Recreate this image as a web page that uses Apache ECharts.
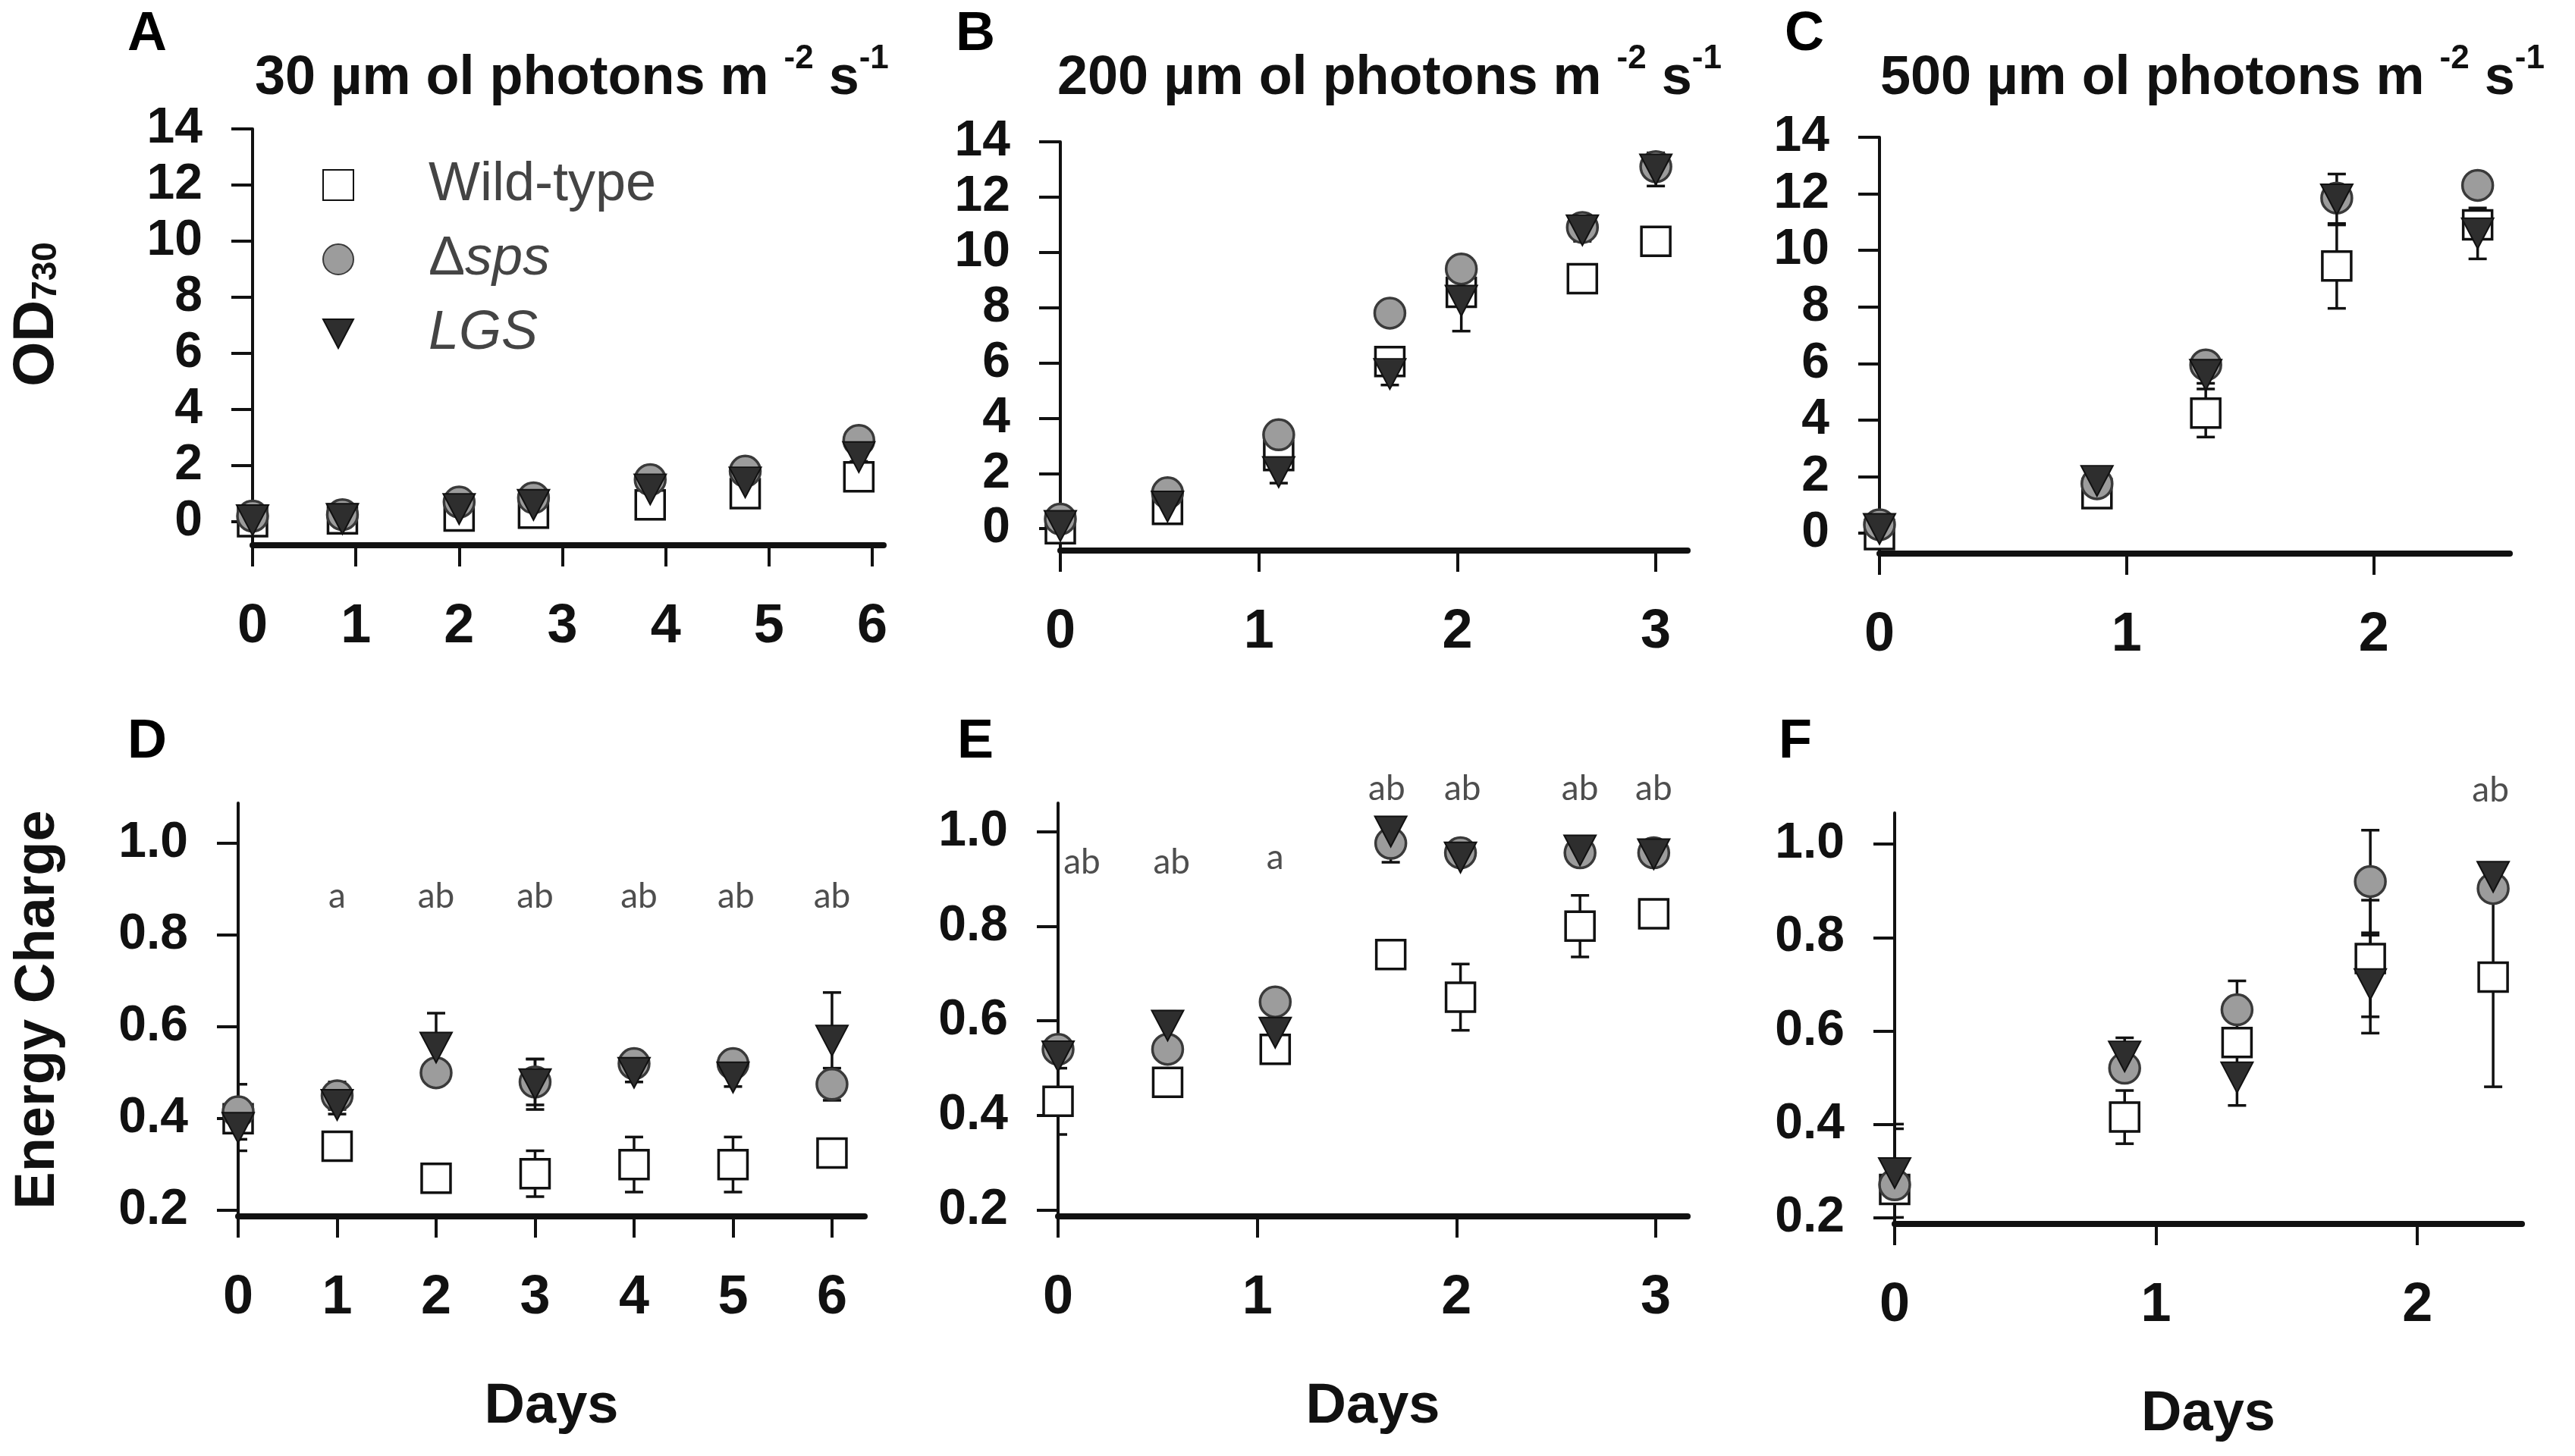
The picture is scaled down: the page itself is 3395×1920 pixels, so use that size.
<!DOCTYPE html>
<html>
<head>
<meta charset="utf-8">
<script src="https://cdn.jsdelivr.net/npm/echarts@6/dist/echarts.min.js"></script>
<style>
html,body{margin:0;padding:0;background:#fff}
#chart{width:3395px;height:1920px}
</style>
</head>
<body>
<div id="chart"></div>
<script>
// ---- data ----
// panel A: OD730, 30 umol photons
const daysA = [0, 0.87, 2.0, 2.72, 3.85, 4.77, 5.87]
const wtA = [0.0, 0.1, 0.2, 0.3, 0.6, 1.0, 1.6]
const wtErrA = [0.1, 0.1, 0.2, 0.2, 0.3, 0.3, 0.3]
const spsA = [0.2, 0.25, 0.7, 0.85, 1.5, 1.8, 2.9]
const spsErrA = [0.1, 0.1, 0.1, 0.1, 0.15, 0.15, 0.2]
const lgsA = [0.05, 0.1, 0.45, 0.6, 1.15, 1.4, 2.3]
const lgsErrA = [0.1, 0.1, 0.2, 0.2, 0.2, 0.2, 0.15]

// panel B: OD730, 200 umol photons
const daysB = [0, 0.54, 1.1, 1.66, 2.02, 2.63, 3.0]
const wtB = [0.0, 0.7, 2.65, 6.05, 8.55, 9.05, 10.4]
const wtErrB = [0.1, 0.2, 0.3, 0.3, 0.3, 0.2, 0.2]
const spsB = [0.35, 1.3, 3.4, 7.8, 9.4, 10.9, 13.1]
const spsErrB = [0.1, 0.2, 0.2, 0.2, 0.3, 0.2, 0.3]
const lgsB = [0.1, 0.8, 2.05, 5.6, 8.25, 10.8, 13.0]
const lgsErrB = [0.1, 0.3, 0.4, 0.4, 1.1, 0.4, 0.6]

// panel C: OD730, 500 umol photons
const daysC = [0, 0.88, 1.32, 1.85, 2.42]
const wtC = [-0.05, 1.4, 4.25, 9.45, 10.9]
const wtErrC = [0.1, 0.2, 0.85, 1.5, 0.5]
const spsC = [0.3, 1.75, 5.95, 11.85, 12.3]
const spsErrC = [0.1, 0.2, 0.3, 0.3, 0.2]
const lgsC = [0.15, 1.85, 5.6, 11.8, 10.6]
const lgsErrC = [0.1, 0.2, 0.3, 0.9, 0.9]

// panel D: energy charge, 30 umol photons
const daysD = [0, 1, 2, 3, 4, 5, 6]
const wtD = [0.40, 0.34, 0.27, 0.28, 0.30, 0.30, 0.325]
const wtErrD = [0.02, 0.02, 0.02, 0.05, 0.06, 0.06, 0.025]
const spsD = [0.415, 0.45, 0.50, 0.48, 0.52, 0.52, 0.475]
const spsErrD = [0.06, 0.03, 0.02, 0.05, 0.02, 0.02, 0.035]
const lgsD = [0.38, 0.43, 0.555, 0.475, 0.50, 0.49, 0.57]
const lgsErrD = [0.05, 0.02, 0.075, 0.055, 0.02, 0.02, 0.105]
const noteXD = [1, 2, 3, 4.05, 5.03, 6]
const noteYD = [0.885, 0.885, 0.885, 0.885, 0.885, 0.885]
const noteD = ['a', 'ab', 'ab', 'ab', 'ab', 'ab']

// panel E: energy charge, 200 umol photons
const daysE = [0, 0.55, 1.09, 1.67, 2.02, 2.62, 2.99]
const wtE = [0.43, 0.47, 0.54, 0.74, 0.65, 0.80, 0.826]
const wtErrE = [0.07, 0.01, 0.01, 0.01, 0.07, 0.065, 0.01]
const spsE = [0.54, 0.54, 0.64, 0.975, 0.955, 0.955, 0.955]
const spsErrE = [0.01, 0.01, 0.01, 0.04, 0.01, 0.01, 0.01]
const lgsE = [0.525, 0.59, 0.575, 1.0, 0.945, 0.96, 0.952]
const lgsErrE = [0.01, 0.03, 0.01, 0.03, 0.01, 0.01, 0.01]
const noteXE = [0.12, 0.57, 1.09, 1.65, 2.03, 2.62, 2.99]
const noteYE = [0.935, 0.935, 0.945, 1.09, 1.09, 1.09, 1.09]
const noteE = ['ab', 'ab', 'a', 'ab', 'ab', 'ab', 'ab']

// panel F: energy charge, 500 umol photons
const daysF = [0, 0.88, 1.31, 1.82, 2.29]
const wtF = [0.26, 0.415, 0.575, 0.755, 0.715]
const wtErrF = [0.01, 0.057, 0.01, 0.125, 0.235]
const spsF = [0.27, 0.52, 0.645, 0.92, 0.905]
const spsErrF = [0.13, 0.01, 0.062, 0.11, 0.01]
const lgsF = [0.295, 0.545, 0.50, 0.70, 0.93]
const lgsErrF = [0.095, 0.04, 0.06, 0.105, 0.01]
const noteXF = [2.28]
const noteYF = [1.115]
const noteF = ['ab']

const odTicks = [0, 2, 4, 6, 8, 10, 12, 14]
const ecTicks = [0.2, 0.4, 0.6, 0.8, 1.0]
const titlesTop = ['30', '200', '500']
const letters = ['A', 'B', 'C', 'D', 'E', 'F']

const FONT = '"Liberation Sans", Arial, sans-serif'

var panels = [
  {grid:{left:333, top:170, width:832, height:549}, xMax:6.11, yMin:-0.84, yMax:14, xTicks:[0,1,2,3,4,5,6], yTicks:odTicks,
   days:daysA, wt:wtA, wtErr:wtErrA, sps:spsA, spsErr:spsErrA, lgs:lgsA, lgsErr:lgsErrA},
  {grid:{left:1398, top:187, width:827, height:539}, xMax:3.16, yMin:-0.79, yMax:14, xTicks:[0,1,2,3], yTicks:odTicks,
   days:daysB, wt:wtB, wtErr:wtErrB, sps:spsB, spsErr:spsErrB, lgs:lgsB, lgsErr:lgsErrB},
  {grid:{left:2478, top:181, width:831, height:549}, xMax:2.55, yMin:-0.72, yMax:14, xTicks:[0,1,2], yTicks:odTicks,
   days:daysC, wt:wtC, wtErr:wtErrC, sps:spsC, spsErr:spsErrC, lgs:lgsC, lgsErr:lgsErrC},
  {grid:{left:314, top:1059, width:826, height:545}, xMax:6.33, yMin:0.187, yMax:1.088, xTicks:[0,1,2,3,4,5,6], yTicks:ecTicks,
   days:daysD, wt:wtD, wtErr:wtErrD, sps:spsD, spsErr:spsErrD, lgs:lgsD, lgsErr:lgsErrD, nx:noteXD, ny:noteYD, nt:noteD},
  {grid:{left:1395, top:1059, width:830, height:545}, xMax:3.16, yMin:0.187, yMax:1.06, xTicks:[0,1,2,3], yTicks:ecTicks,
   days:daysE, wt:wtE, wtErr:wtErrE, sps:spsE, spsErr:spsErrE, lgs:lgsE, lgsErr:lgsErrE, nx:noteXE, ny:noteYE, nt:noteE},
  {grid:{left:2498, top:1072, width:827, height:542}, xMax:2.40, yMin:0.186, yMax:1.067, xTicks:[0,1,2], yTicks:ecTicks,
   days:daysF, wt:wtF, wtErr:wtErrF, sps:spsF, spsErr:spsErrF, lgs:lgsF, lgsErr:lgsErrF, nx:noteXF, ny:noteYF, nt:noteF}
]

// inverted triangle used for LGS (legend icon too)
const downTri = 'path://M0,0 L20,0 L10,19 Z'

var looks = {
  wt: {name:'Wild-type', symbol:'rect', size:38, z:3,
       style:{color:'#fff', borderColor:'#111', borderWidth:3.5, opacity:1}},
  sps: {name:'Δsps', symbol:'circle', size:40, z:4,
       style:{color:'#9c9c9c', borderColor:'#3a3a3a', borderWidth:3.5, opacity:1}},
  lgs: {name:'LGS', symbol:downTri, size:[42,40], z:5,
       style:{color:'#2e2e2e', borderColor:'#111', borderWidth:2, opacity:1}}
}

function errBar(params, api) {
  var x = api.value(0)
  var lo = api.coord([x, api.value(1)])
  var hi = api.coord([x, api.value(2)])
  var w = 12
  var st = {stroke:'#111', lineWidth:3.5}
  return {type:'group', children:[
    {type:'line', shape:{x1:lo[0], y1:lo[1], x2:hi[0], y2:hi[1]}, style:st},
    {type:'line', shape:{x1:lo[0]-w, y1:lo[1], x2:lo[0]+w, y2:lo[1]}, style:st},
    {type:'line', shape:{x1:hi[0]-w, y1:hi[1], x2:hi[0]+w, y2:hi[1]}, style:st}
  ]}
}

var series = []
var grids = [], xAxes = [], yAxes = []
panels.forEach(function(p, i) {
  var bottomRow = i >= 3
  grids.push(p.grid)
  xAxes.push({
    type:'value', gridIndex:i, min:0, max:p.xMax,
    axisLine:{show:true, onZero:false, lineStyle:{color:'#111', width:8}},
    axisTick:{show:true, length:28, customValues:p.xTicks, lineStyle:{color:'#111', width:4}},
    axisLabel:{customValues:p.xTicks, margin:72, fontSize:72, fontWeight:'bold', fontFamily:FONT, color:'#111'},
    splitLine:{show:false},
    name: bottomRow ? 'Days' : '', nameLocation:'middle', nameGap:215,
    nameTextStyle:{fontSize:74, fontWeight:'bold', fontFamily:FONT, color:'#111'}
  })
  var yName = ''
  if (i === 0) yName = '{b|OD}{s|730}'
  if (i === 3) yName = 'Energy Charge'
  yAxes.push({
    type:'value', gridIndex:i, min:p.yMin, max:p.yMax,
    axisLine:{show:true, onZero:false, lineStyle:{color:'#111', width:4}},
    axisTick:{show:true, length:28, customValues:p.yTicks, lineStyle:{color:'#111', width:4}},
    axisLabel:{customValues:p.yTicks, margin:66, fontSize:66, fontWeight:'bold', fontFamily:FONT, color:'#111',
      formatter: function(v){ return bottomRow ? v.toFixed(1) : String(v) }},
    splitLine:{show:false},
    name:yName, nameLocation:'middle', nameRotate:90, nameGap: i === 0 ? 222 : 226,
    nameTextStyle:{fontSize:74, fontWeight:'bold', fontFamily:FONT, color:'#111',
      padding: i === 0 ? [0,0,0,60] : [0,0,0,0],
      rich:{
        b:{fontSize:76, fontWeight:'bold', fontFamily:FONT, color:'#111', padding:[0,0,24,0]},
        s:{fontSize:46, fontWeight:'bold', fontFamily:FONT, color:'#111'}
      }}
  })
  ;['wt', 'sps', 'lgs'].forEach(function(k) {
    var vals = p[k], errs = p[k + 'Err'], lk = looks[k]
    series.push({
      type:'custom', xAxisIndex:i, yAxisIndex:i, silent:true, clip:true, z:2,
      renderItem:errBar,
      data: p.days.map(function(d, j){ return [d, vals[j] - errs[j], vals[j] + errs[j]] })
    })
    series.push({
      type:'scatter', name:lk.name, xAxisIndex:i, yAxisIndex:i, z:lk.z,
      symbol:lk.symbol, symbolSize:lk.size,
      itemStyle:lk.style,
      data: p.days.map(function(d, j){ return [d, vals[j]] })
    })
  })
  if (p.nt) {
    series.push({
      type:'scatter', xAxisIndex:i, yAxisIndex:i, clip:false, silent:true, z:6,
      symbolSize:1, itemStyle:{color:'rgba(0,0,0,0)'},
      label:{show:true, position:'inside', fontSize:46, fontFamily:'Lato, "Open Sans", sans-serif', color:'#222',
        formatter:function(q){ return q.value[2] }},
      data: p.nt.map(function(t, j){ return [p.nx[j], p.ny[j], t] })
    })
  }
})

var titleRich = {
  t:{fontSize:72, fontWeight:'bold', fontFamily:FONT, color:'#111', lineHeight:84, verticalAlign:'bottom'},
  s:{fontSize:44, fontWeight:'bold', fontFamily:FONT, color:'#111', lineHeight:84, verticalAlign:'top'}
}
var titleLeft = [336, 1394, 2479]
var letterPos = [[168, 10], [1260, 10], [2353, 10], [168, 943], [1262, 943], [2345, 943]]
var titles = []
titlesTop.forEach(function(t, i) {
  titles.push({
    text:'{t|' + t + ' µm ol photons m }{s|-2}{t| s}{s|-1}',
    left:titleLeft[i], top:56, padding:0,
    textStyle:{rich:titleRich}
  })
})
letters.forEach(function(l, i) {
  titles.push({
    text:l, left:letterPos[i][0], top:letterPos[i][1], padding:0,
    textStyle:{fontSize:72, fontWeight:'bold', fontFamily:FONT, color:'#000'}
  })
})

var option = {
  animation:false,
  backgroundColor:'#fff',
  title:titles,
  legend:{
    data:[
      {name:'Wild-type', icon:'rect'},
      {name:'Δsps', icon:'circle'},
      {name:'LGS', icon:downTri}
    ],
    orient:'vertical', left:420, top:203,
    itemWidth:40, itemHeight:40, itemGap:26,
    selectedMode:false,
    formatter:function(name) {
      if (name === 'Δsps') return 'Δ{i|sps}'
      if (name === 'LGS') return '{i|LGS}'
      return name
    },
    textStyle:{fontSize:72, fontFamily:FONT, color:'#444', lineHeight:62, padding:[0,0,0,94],
      rich:{i:{fontSize:72, fontFamily:FONT, color:'#444', fontStyle:'italic', lineHeight:62}}}
  },
  grid:grids,
  xAxis:xAxes,
  yAxis:yAxes,
  series:series
}

var myChart = echarts.init(document.getElementById('chart'))
option && myChart.setOption(option)
</script>
</body>
</html>
